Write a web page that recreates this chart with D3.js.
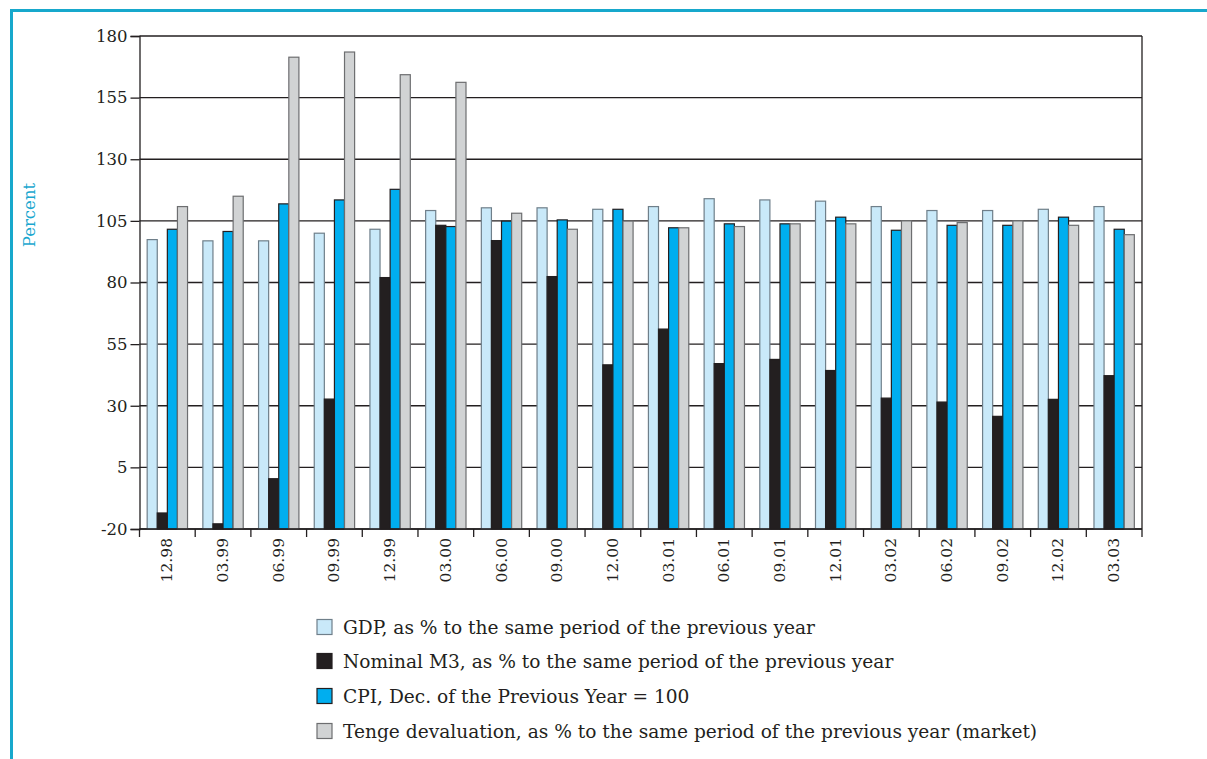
<!DOCTYPE html>
<html>
<head>
<meta charset="utf-8">
<script src="https://cdn.jsdelivr.net/npm/d3@7"></script>
<style>
  html, body { margin: 0; padding: 0; background: #fff; }
  svg { display: block; }
  text { font-family: "DejaVu Serif", "Liberation Serif", serif; fill: #231f20; }
</style>
</head>
<body>
<svg id="chart" width="1207" height="759"></svg>
<script>
// Quarter-end periods
const categories = ["12.98","03.99","06.99","09.99","12.99","03.00","06.00","09.00","12.00",
                    "03.01","06.01","09.01","12.01","03.02","06.02","09.02","12.02","03.03"];

// GDP, as % to the same period of the previous year
const gdp   = [97.4, 96.9, 96.9, 100.0, 101.6, 109.2, 110.3, 110.3, 109.7,
               110.8, 114.0, 113.5, 113.0, 110.8, 109.2, 109.2, 109.7, 110.8];
// Nominal M3, as % to the same period of the previous year
const m3    = [-13.5, -17.9, 0.4, 32.7, 82.0, 103.2, 97.0, 82.4, 46.6,
               61.1, 47.1, 48.8, 44.3, 33.1, 31.5, 25.7, 32.6, 42.2];
// CPI, Dec. of the previous year = 100
const cpi   = [101.6, 100.7, 111.9, 113.5, 117.8, 102.7, 104.9, 105.4, 109.7,
               102.2, 103.8, 103.8, 106.5, 101.2, 103.2, 103.2, 106.5, 101.6];
// Tenge devaluation, as % to the same period of the previous year (market)
const tenge = [110.8, 115.0, 171.4, 173.5, 164.3, 161.2, 108.1, 101.6, 104.9,
               102.2, 102.7, 103.8, 103.8, 105.0, 104.3, 105.0, 103.2, 99.4];

const seriesNames = [
  "GDP, as % to the same period of the previous year",
  "Nominal M3, as % to the same period of the previous year",
  "CPI, Dec. of the Previous Year = 100",
  "Tenge devaluation, as % to the same period of the previous year (market)"
];
const yTicks = [-20, 5, 30, 55, 80, 105, 130, 155, 180];

const seriesValues = [gdp, m3, cpi, tenge];
const fills   = ["#c9e9f9", "#231f20", "#00aeef", "#d1d3d4"];
const strokes = ["#6f7f8a", "#231f20", "#231f20", "#6d6e70"];

const svg = d3.select("#chart");
const plotLeft = 139.5, plotRight = 1142, plotTop = 36, plotBottom = 529;

const x = d3.scaleBand().domain(categories).range([plotLeft, plotRight]).padding(0);
const xs = d3.scaleBand().domain(d3.range(4)).range([0, x.bandwidth()])
  .paddingInner(0).paddingOuter(0.76);
const y = d3.scaleLinear().domain([-20, 180]).range([plotBottom, plotTop]);

// Frame border
svg.append("path")
  .attr("d", `M11.5,759 V10.5 H1207`)
  .attr("fill", "none")
  .attr("stroke", "#17a8cc")
  .attr("stroke-width", 3);

// Horizontal grid lines
svg.append("g").selectAll("line").data(yTicks).join("line")
  .attr("x1", plotLeft).attr("x2", plotRight)
  .attr("y1", d => y(d)).attr("y2", d => y(d))
  .attr("stroke", "#231f20").attr("stroke-width", 1.3);

// Right border
svg.append("line")
  .attr("x1", plotRight).attr("x2", plotRight).attr("y1", plotTop).attr("y2", plotBottom)
  .attr("stroke", "#231f20").attr("stroke-width", 1.3);

// Bars
const groups = svg.append("g").selectAll("g").data(categories).join("g")
  .attr("transform", d => `translate(${x(d)},0)`);
groups.selectAll("rect")
  .data((c, i) => seriesValues.map((vals, s) => ({ s, v: vals[i] })))
  .join("rect")
  .attr("x", d => xs(d.s))
  .attr("width", xs.bandwidth())
  .attr("y", d => y(d.v))
  .attr("height", d => y(-20) - y(d.v))
  .attr("fill", d => fills[d.s])
  .attr("stroke", d => strokes[d.s])
  .attr("stroke-width", 1.2);

// Left axis
const yAxis = svg.append("g").attr("transform", `translate(${plotLeft},0)`)
  .call(d3.axisLeft(y).tickValues(yTicks).tickSize(9).tickPadding(3).tickFormat(d => String(d)));
yAxis.select(".domain").attr("stroke", "#231f20").attr("stroke-width", 1.3);
yAxis.selectAll(".tick line").attr("stroke", "#231f20").attr("stroke-width", 1.3);
yAxis.selectAll("text").attr("font-size", 16.5)
  .attr("font-family", "'DejaVu Serif', serif").attr("fill", "#231f20");

// Bottom axis: ticks at band boundaries
const boundaries = categories.map(c => x(c)).concat([plotRight]);
svg.append("line")
  .attr("x1", plotLeft).attr("x2", plotRight).attr("y1", plotBottom).attr("y2", plotBottom)
  .attr("stroke", "#231f20").attr("stroke-width", 1.3);
svg.append("g").selectAll("line").data(boundaries).join("line")
  .attr("x1", d => d).attr("x2", d => d)
  .attr("y1", plotBottom).attr("y2", plotBottom + 8)
  .attr("stroke", "#231f20").attr("stroke-width", 1.3);
svg.append("g").selectAll("text").data(categories).join("text")
  .attr("transform", d => `translate(${x(d) + x.bandwidth() / 2},${plotBottom + 9}) rotate(-90)`)
  .attr("text-anchor", "end")
  .attr("dominant-baseline", "central")
  .attr("font-size", 15.5)
  .text(d => d);

// Y axis title
svg.append("text")
  .attr("transform", "translate(29,215) rotate(-90)")
  .attr("text-anchor", "middle")
  .attr("dominant-baseline", "central")
  .attr("font-size", 16.5)
  .style("fill", "#1aa7cf")
  .text("Percent");

// Legend
const legendY = [627, 661, 696, 731];
const legend = svg.append("g").selectAll("g").data(seriesNames).join("g")
  .attr("transform", (d, i) => `translate(317,${legendY[i]})`);
legend.append("rect")
  .attr("x", 0).attr("y", -7.5).attr("width", 15).attr("height", 15)
  .attr("fill", (d, i) => fills[i])
  .attr("stroke", (d, i) => strokes[i])
  .attr("stroke-width", 1.2);
legend.append("text")
  .attr("x", 26).attr("y", 0)
  .attr("dominant-baseline", "central")
  .attr("font-size", 18.6)
  .text(d => d);
</script>
</body>
</html>
